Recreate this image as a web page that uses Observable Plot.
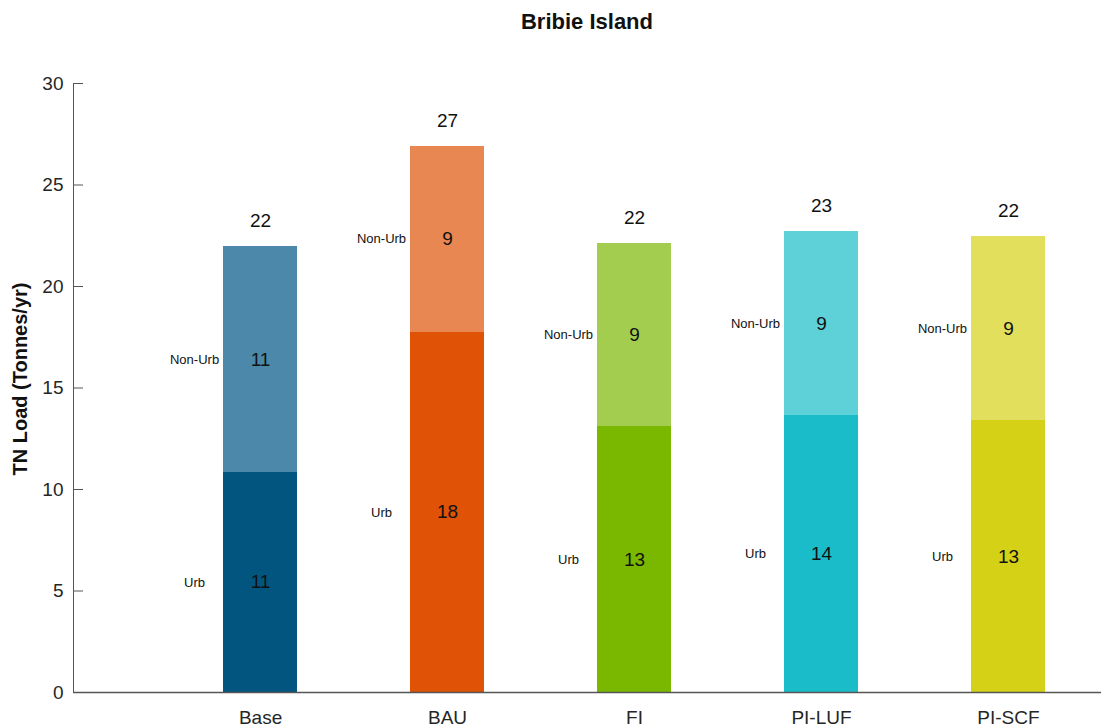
<!DOCTYPE html>
<html><head><meta charset="utf-8">
<script src="https://cdn.jsdelivr.net/npm/d3@7"></script>
<script src="https://cdn.jsdelivr.net/npm/@observablehq/plot@0.6"></script>
<style>
body{margin:0;background:#fff;font-family:"Liberation Sans",Arial,sans-serif;}
#title{height:44px;line-height:44px;padding-left:73px;width:1028px;text-align:center;font-weight:bold;font-size:22px;color:#111;}
</style></head><body>
<div id="title">Bribie Island</div>
<div id="chart"></div>
<script>
const categories = ["Base", "BAU", "FI", "PI-LUF", "PI-SCF"];
const urbLoad = [10.85, 17.75, 13.1, 13.65, 13.4];
const nonUrbLoad = [11.1, 9.15, 9.0, 9.05, 9.05];
const segments = ["Urb", "Non-Urb"];
const yTicks = [0, 5, 10, 15, 20, 25, 30];
const yLabel = "TN Load (Tonnes/yr)";
const urbColors = ["#02557f", "#e05206", "#7ab800", "#1bbcca", "#d4d116"];
const nonUrbColors = ["#4b88a9", "#e88751", "#a3cd4e", "#5dd1d7", "#e1df5b"];

const rows = [];
categories.forEach((c, i) => {
  rows.push({cat: c, seg: segments[0], value: urbLoad[i], color: urbColors[i]});
  rows.push({cat: c, seg: segments[1], value: nonUrbLoad[i], color: nonUrbColors[i]});
});
const totals = categories.map((c, i) => ({cat: c, total: urbLoad[i] + nonUrbLoad[i]}));

const chart = Plot.plot({
  width: 1101, height: 684,
  marginLeft: 73, marginRight: 0, marginTop: 39, marginBottom: 36,
  style: {fontFamily: "'Liberation Sans', Arial, sans-serif", fontSize: "19px", color: "#262626", background: "white"},
  x: {domain: categories, paddingInner: 0.6016, paddingOuter: 0.5497, align: 0.7287, round: false, label: null},
  y: {domain: [0, 30], label: null},
  color: {type: "identity"},
  marks: [
    Plot.barY(rows, Plot.stackY({x: "cat", y: "value", fill: "color", order: null, shapeRendering: "crispEdges"})),
    Plot.ruleY(yTicks, {y: d => d, insetRight: 1018, stroke: "#555"}),
    Plot.ruleY([0], {stroke: "#555", strokeWidth: 1.5}),
    Plot.frame({anchor: "left", stroke: "#555"}),
    Plot.axisY({ticks: yTicks, tickSize: 0, tickPadding: 10, fontSize: 19, label: null}),
    Plot.axisX({tickSize: 0, tickPadding: 18, fontSize: 19, label: null}),
    Plot.text(rows, Plot.stackY({x: "cat", y: "value", order: null, text: d => Math.round(d.value), fontSize: 19, fill: "#111"})),
    Plot.text(rows, Plot.stackY({x: "cat", y: "value", order: null, text: "seg", dx: -66, fontSize: 13, fill: "#111"})),
    Plot.text(totals, {x: "cat", y: "total", text: d => Math.round(d.total), dy: -26, fontSize: 19, fill: "#111"}),
    Plot.text([yLabel], {frameAnchor: "left", textAnchor: "middle", text: d => d, rotate: -90, dx: -53, dy: -9, fontWeight: "bold", fontSize: 20, fill: "#111"})
  ]
});
document.getElementById("chart").appendChild(chart);
</script>
</body></html>
